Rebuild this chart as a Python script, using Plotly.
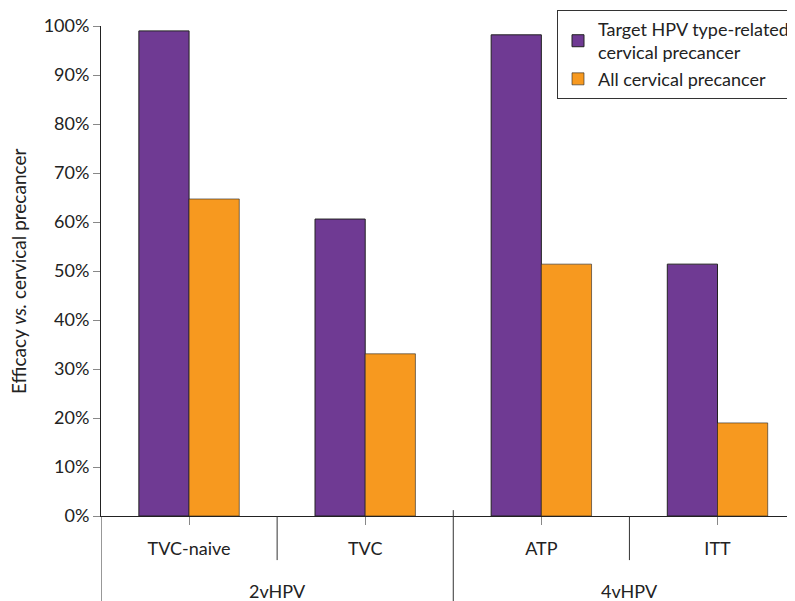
import plotly.graph_objects as go

categories = ["TVC-naive", "TVC", "ATP", "ITT"]
groups = ["2vHPV", "4vHPV"]
group_members = [[0, 1], [2, 3]]
target_vals = [99.0, 60.6, 98.2, 51.4]
all_vals = [64.7, 33.1, 51.4, 19.0]
ytick_vals = [0, 10, 20, 30, 40, 50, 60, 70, 80, 90, 100]
ytick_text = [f"{v}%" for v in ytick_vals]

PURPLE = "#6f3a93"
ORANGE = "#f7991f"
FONT = "Lato, Open Sans, sans-serif"
x = list(range(len(categories)))

fig = go.Figure()
fig.add_trace(go.Bar(x=x, y=target_vals, name="Target HPV type-related<br>cervical precancer",
                     marker=dict(color=PURPLE, line=dict(color="#222", width=1))))
fig.add_trace(go.Bar(x=x, y=all_vals, name="All cervical precancer",
                     marker=dict(color=ORANGE, line=dict(color="#222", width=0.6))))

# plot area is 490 px tall, 694 px wide
shapes = []
for b in [0.5, 2.5]:
    shapes.append(dict(type="line", xref="x", yref="paper", x0=b, x1=b, y0=0, y1=-0.09,
                       line=dict(color="#333", width=1)))
shapes.append(dict(type="line", xref="x", yref="paper", x0=1.5, x1=1.5, y0=0.012, y1=-0.2,
                   line=dict(color="#333", width=1)))
shapes.append(dict(type="line", xref="x", yref="paper", x0=-0.5, x1=-0.5, y0=0, y1=-0.2,
                   line=dict(color="#333", width=1)))

annotations = []
for g, mem in zip(groups, group_members):
    annotations.append(dict(text=g, x=sum(mem) / len(mem), xref="x", y=-0.153, yref="paper",
                            showarrow=False, yanchor="middle",
                            font=dict(family=FONT, size=18, color="#222")))
annotations.append(dict(text="Efficacy <i>vs.</i> cervical precancer", textangle=-90,
                        x=-0.1196, xref="paper", y=0.5, yref="paper",
                        xanchor="center", yanchor="middle", showarrow=False,
                        font=dict(family=FONT, size=19, color="#222")))

fig.update_layout(
    width=795, height=601,
    margin=dict(l=93, r=8, t=18, b=93, autoexpand=False),
    paper_bgcolor="white", plot_bgcolor="white",
    barmode="group", bargap=0.43, bargroupgap=0,
    font=dict(family=FONT, size=18, color="#222"),
    showlegend=True,
    legend=dict(x=1.0, y=1.033, xanchor="right", yanchor="top",
                bordercolor="#333", borderwidth=1, bgcolor="white",
                font=dict(family=FONT, size=18, color="#222"),
                tracegroupgap=8, itemwidth=30),
    shapes=shapes, annotations=annotations,
    xaxis=dict(range=[-0.5, 3.44], tickvals=x, ticktext=categories,
               showline=True, linecolor="#222", linewidth=1,
               ticks="outside", ticklen=8, tickcolor="#888",
               showgrid=False, zeroline=False, ticklabelstandoff=8, automargin=False,
               tickfont=dict(family=FONT, size=18, color="#222")),
    yaxis=dict(range=[0, 100], tickvals=ytick_vals, ticktext=ytick_text,
               showline=True, linecolor="#222", linewidth=1,
               ticks="outside", ticklen=7, tickcolor="#888",
               showgrid=False, zeroline=False, automargin=False,
               tickfont=dict(family=FONT, size=18, color="#222")),
)

fig.write_html("out.html")
